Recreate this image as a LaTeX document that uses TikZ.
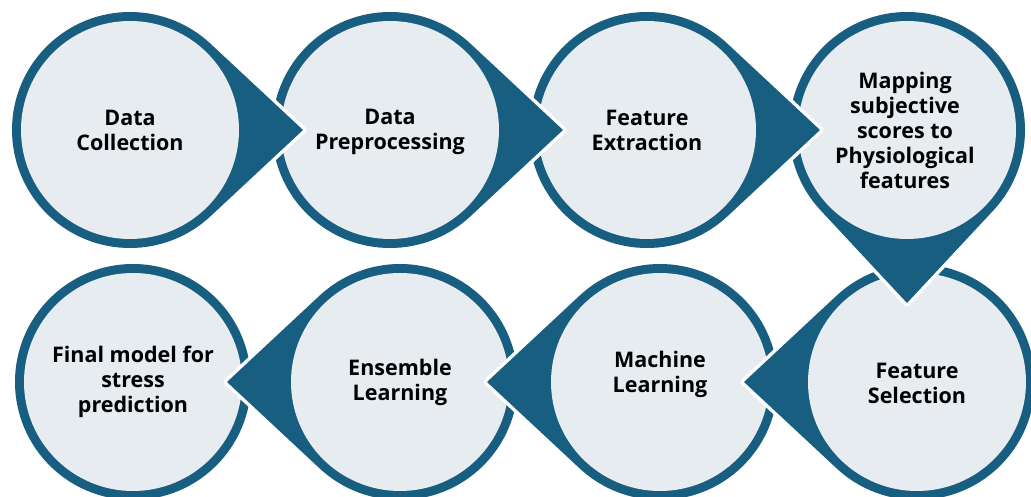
\documentclass[tikz,border=0pt]{standalone}
\usepackage{fontspec}
\setmainfont{Open Sans}
\usetikzlibrary{calc}
\definecolor{ringblue}{RGB}{24,94,128}
\definecolor{discfill}{RGB}{231,236,241}
\tikzset{
  stagetext/.style={inner sep=0pt, align=center, text=black,
    font=\fontsize{21.5}{25}\selectfont\bfseries},
}
% #1 name, #2 centre, #3 direction of the pointer, #4 label shift, #5 label
\newcommand\stagedrop[5]{%
  \coordinate (#1c) at #2;
  \coordinate (#1t) at ($(#1c)+(#3:173)$);
  \draw[white, line width=7pt, line join=round]
    (#1t) -- ($(#1c)+(#3+47:118)$) arc[start angle=#3+47, end angle=#3+313, radius=118] -- cycle;
  \fill[ringblue]
    (#1t) -- ($(#1c)+(#3+47:118)$) arc[start angle=#3+47, end angle=#3+313, radius=118] -- cycle;
  \fill[discfill] (#1c) circle[radius=109];
  \node[stagetext] (#1) at ($(#1c)+(#4)$) {#5};
}
\newcommand\stageend[4]{%
  \coordinate (#1c) at #2;
  \fill[ringblue] (#1c) circle[radius=118];
  \fill[discfill] (#1c) circle[radius=109];
  \node[stagetext] (#1) at ($(#1c)+(#3)$) {#4};
}
\begin{document}
\begin{tikzpicture}[x=1pt,y=1pt]
  \useasboundingbox (0,0) rectangle (1031,497);
  % drawn from the last stage back to the first, so each pointer lies on top
  \stageend{s8}{(133,115)}{0,0}{Final model for\\stress\\prediction}
  \stagedrop{s7}{(400,115)}{180}{0,0}{Ensemble\\Learning}
  \stagedrop{s6}{(660,115)}{180}{0,8}{Machine\\Learning}
  \stagedrop{s5}{(917,115)}{180}{0,-1}{Feature\\Selection}
  \stagedrop{s4}{(907,367)}{-90}{-2,0}{Mapping\\subjective\\scores to\\Physiological\\features}
  \stagedrop{s3}{(647,367)}{0}{0,0}{Feature\\Extraction}
  \stagedrop{s2}{(390,367)}{0}{0,-2}{Data\\Preprocessing}
  \stagedrop{s1}{(130,367)}{0}{0,0}{Data\\Collection}
\end{tikzpicture}
\end{document}
